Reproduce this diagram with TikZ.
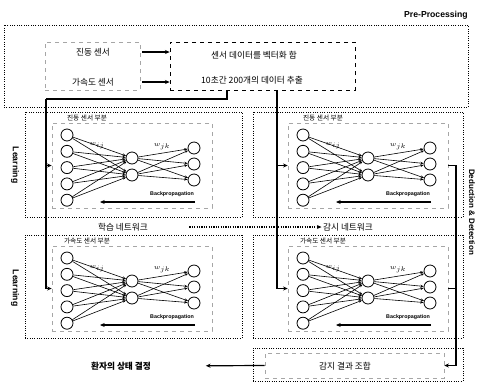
\documentclass[tikz,border=0pt]{standalone}
\usepackage{fontspec}
\setmainfont{Noto Sans CJK KR}
\newfontfamily\latfont{Liberation Sans}
\usetikzlibrary{arrows.meta,fit}

% one small network: prefix, x, y of first input, caption
\newcommand\nnet[4]{%
  \node[faint, fit={({#2-15},{#3-12}) ({#2+145},{#3+73})}] (#1f) {};
  \node[sublab] (#1t) at ({#2+20},{#3-17}) {#4};
  \foreach \k in {0,...,4}
    \node[neuron] (#1i\k) at (#2,{#3+16.3*\k}) {};
  \foreach \k in {0,1}
    \node[neuron] (#1h\k) at ({#2+65},{#3+23+17*\k}) {};
  \foreach \k in {0,1,2}
    \node[neuron] (#1o\k) at ({#2+127},{#3+13+16*\k}) {};
  \foreach \a in {0,...,4}
    \foreach \b in {0,1}
      \draw[edge] (#1i\a) -- (#1h\b);
  \foreach \a in {0,1}
    \foreach \b in {0,1,2}
      \draw[edge] (#1h\a) -- (#1o\b);
  \node[wlab] (#1wa) at ({#2+30},{#3+11}) {$w_{ij}$};
  \node[wlab] (#1wb) at ({#2+95},{#3+12}) {$w_{jk}$};
  \node[bplab] (#1bp) at ({#2+105},{#3+59}) {Backpropagation};
  \coordinate (#1bs) at ({#2+128},{#3+67});
  \coordinate (#1be) at ({#2+33},{#3+67});
  \draw[arr] (#1bs) -- (#1be);
}

\begin{document}
\begin{tikzpicture}[x=0.75pt, y=-0.75pt,
    dotbox/.style={draw, densely dotted, line width=0.75pt, inner sep=0pt},
    dashbox/.style={draw, dashed, line width=0.5pt, inner sep=0pt},
    faint/.style={draw=black!35, dashed, line width=0.4pt, inner sep=0pt},
    neuron/.style={circle, draw, fill=white, line width=0.6pt, minimum size=9pt, inner sep=0pt},
    edge/.style={-{Stealth[length=2.5pt,width=2pt]}, line width=0.45pt},
    arr/.style={-{Stealth[length=3.5pt,width=3pt]}, line width=0.9pt},
    line/.style={line width=0.9pt},
    dotarr/.style={-{Stealth[length=3.5pt,width=3pt]}, densely dotted, line width=0.8pt},
    txt/.style={font=\fontsize{6.5}{7.5}\selectfont, inner sep=1pt},
    bold/.style={font=\fontsize{6.5}{7.5}\selectfont\bfseries, inner sep=1pt},
    sublab/.style={font=\fontsize{5}{6}\selectfont, inner sep=0.5pt},
    wlab/.style={font=\fontsize{4.5}{5}\selectfont, inner sep=0pt},
    bplab/.style={font=\latfont\bfseries\fontsize{4}{5}\selectfont, inner sep=0pt},
    side/.style={font=\latfont\bfseries\fontsize{6.5}{7.5}\selectfont, inner sep=0pt, rotate=-90}
  ]
  \useasboundingbox (0,0) rectangle (478,383);

  % pre-processing
  \node[font=\latfont\bfseries\fontsize{6.5}{7.5}\selectfont, anchor=east, inner sep=0pt] (pptitle) at (468,15) {Pre-Processing};
  \node[dotbox, fit={(4,25) (468,107)}] (pre) {};
  \node[faint, fit={(45,42) (140,90)}] (sens) {};
  \node[dashbox, fit={(170,42) (355,90)}] (vec) {};
  \node[txt, minimum width=73.5pt] (vib) at (93,52) {진동 센서};
  \node[txt, minimum width=73.5pt] (acc) at (93,82) {가속도 센서};
  \node[txt] (vtxt) at (254,55) {센서 데이터를 벡터화 함};
  \node[txt] (etxt) at (252,80) {10초간 200개의 데이터 추출};
  \draw[arr] (vib.east) -- (vib.east -| vec.west);
  \draw[arr] (acc.east) -- (acc.east -| vec.west);

  % networks
  \node[dotbox, fit={(25,112) (242,217)}] (learnA) {};
  \node[dotbox, fit={(253,112) (463,217)}] (detA) {};
  \node[dotbox, fit={(25,235) (242,338)}] (learnB) {};
  \node[dotbox, fit={(253,235) (463,338)}] (detB) {};
  \nnet{la}{67}{135}{진동 센서 부분}
  \nnet{ra}{303}{135}{진동 센서 부분}
  \nnet{lb}{67}{258}{가속도 센서 부분}
  \nnet{rb}{303}{258}{가속도 센서 부분}

  \node[txt] (lnet) at (123,227) {학습 네트워크};
  \node[txt] (mnet) at (348,227) {감시 네트워크};
  \draw[dotarr, shorten <=30pt] (lnet) -- (mnet);

  \node[side] (lrnA) at (15,165) {Learning};
  \node[side] (lrnB) at (15,288) {Learning};
  \node[side, font=\latfont\bfseries\fontsize{6}{7}\selectfont] (dedu) at (472,212) {Deduction \& Detection};

  % result
  \node[dotbox, fit={(253,348) (463,381)}] (resbox) {};
  \node[faint, fit={(265,353) (444,378)}] (res) {};
  \node[txt] (rtxt) at (345,366) {감지 결과 조합};
  \node[bold] (state) at (121,366) {환자의 상태 결정};

  % connectors
  \coordinate (tapA) at (227,90);
  \coordinate (busL) at (46,99);
  \draw[line] (tapA) |- (busL);
  \draw[arr] (busL) |- (lbf.west);
  \draw[arr] (busL |- laf.west) -- (laf.west);

  \coordinate (tapB) at (277,90);
  \draw[arr] (tapB) |- (rbf.west);
  \draw[arr] (tapB |- raf.west) -- (raf.west);

  \coordinate (busR) at (456,165);
  \draw[arr] (raf.east) -| (busR |- res.east) -- (res.east);
  \draw[line] (rbf.east) -- (rbf.east -| busR);
  \draw[arr, shorten >=40pt] (res.west) -- (state.east);
\end{tikzpicture}
\end{document}
